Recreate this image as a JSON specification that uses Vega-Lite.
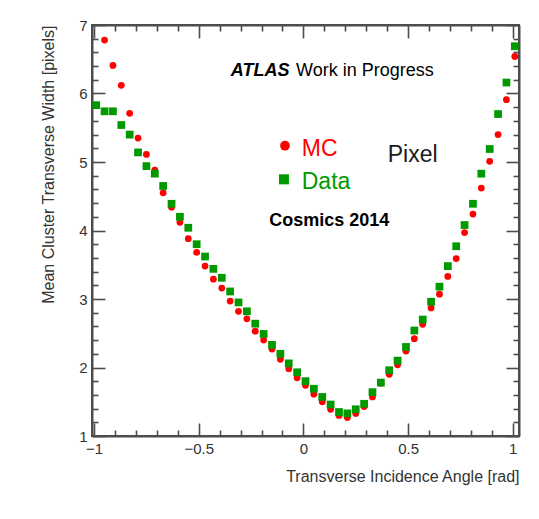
{
  "$schema": "https://vega.github.io/schema/vega-lite/v6.json",
  "width": 427,
  "height": 411,
  "autosize": {"type": "none"},
  "padding": {"left": 92, "top": 25, "right": 20, "bottom": 83},
  "background": "#ffffff",
  "config": {
    "font": "Liberation Sans",
    "view": {"stroke": "#4d4d4d", "strokeWidth": 2},
    "axis": {
      "domainColor": "#4d4d4d",
      "domainWidth": 2,
      "tickColor": "#4d4d4d",
      "tickWidth": 1.6,
      "grid": false,
      "labelFont": "Liberation Sans",
      "labelFontSize": 15,
      "labelColor": "#333333",
      "labelFlush": false,
      "labelOverlap": false,
      "labelPadding": 18,
      "titleFont": "Liberation Sans",
      "titleFontSize": 16,
      "titleFontWeight": "normal",
      "titleColor": "#333333"
    }
  },
  "datasets": {
    "mc": [
      {"angle": -0.95, "width": 6.78}, {"angle": -0.91, "width": 6.41}, {"angle": -0.87, "width": 6.12},
      {"angle": -0.83, "width": 5.71}, {"angle": -0.79, "width": 5.35}, {"angle": -0.75, "width": 5.11},
      {"angle": -0.71, "width": 4.88}, {"angle": -0.67, "width": 4.55}, {"angle": -0.63, "width": 4.34},
      {"angle": -0.59, "width": 4.12}, {"angle": -0.55, "width": 3.88}, {"angle": -0.51, "width": 3.68},
      {"angle": -0.47, "width": 3.48}, {"angle": -0.43, "width": 3.29}, {"angle": -0.39, "width": 3.16},
      {"angle": -0.35, "width": 2.97}, {"angle": -0.31, "width": 2.82}, {"angle": -0.27, "width": 2.71},
      {"angle": -0.23, "width": 2.53}, {"angle": -0.19, "width": 2.40}, {"angle": -0.15, "width": 2.27},
      {"angle": -0.11, "width": 2.12}, {"angle": -0.07, "width": 1.98}, {"angle": -0.03, "width": 1.85},
      {"angle": 0.01, "width": 1.74}, {"angle": 0.05, "width": 1.61}, {"angle": 0.09, "width": 1.50},
      {"angle": 0.13, "width": 1.39}, {"angle": 0.17, "width": 1.30}, {"angle": 0.21, "width": 1.27},
      {"angle": 0.25, "width": 1.33}, {"angle": 0.29, "width": 1.43}, {"angle": 0.33, "width": 1.57},
      {"angle": 0.37, "width": 1.77}, {"angle": 0.41, "width": 1.90}, {"angle": 0.45, "width": 2.04},
      {"angle": 0.49, "width": 2.24}, {"angle": 0.53, "width": 2.42}, {"angle": 0.57, "width": 2.63},
      {"angle": 0.61, "width": 2.87}, {"angle": 0.65, "width": 3.07}, {"angle": 0.69, "width": 3.33},
      {"angle": 0.73, "width": 3.59}, {"angle": 0.77, "width": 3.97}, {"angle": 0.81, "width": 4.24},
      {"angle": 0.85, "width": 4.62}, {"angle": 0.89, "width": 5.01}, {"angle": 0.93, "width": 5.40},
      {"angle": 0.97, "width": 5.91}, {"angle": 1.01, "width": 6.54}
    ],
    "data": [
      {"angle": -0.99, "width": 5.83}, {"angle": -0.95, "width": 5.74}, {"angle": -0.91, "width": 5.74},
      {"angle": -0.87, "width": 5.54}, {"angle": -0.83, "width": 5.40}, {"angle": -0.79, "width": 5.14},
      {"angle": -0.75, "width": 4.94}, {"angle": -0.71, "width": 4.83}, {"angle": -0.67, "width": 4.65},
      {"angle": -0.63, "width": 4.39}, {"angle": -0.59, "width": 4.20}, {"angle": -0.55, "width": 4.04},
      {"angle": -0.51, "width": 3.80}, {"angle": -0.47, "width": 3.62}, {"angle": -0.43, "width": 3.44},
      {"angle": -0.39, "width": 3.31}, {"angle": -0.35, "width": 3.11}, {"angle": -0.31, "width": 2.95},
      {"angle": -0.27, "width": 2.82}, {"angle": -0.23, "width": 2.64}, {"angle": -0.19, "width": 2.49},
      {"angle": -0.15, "width": 2.33}, {"angle": -0.11, "width": 2.20}, {"angle": -0.07, "width": 2.06},
      {"angle": -0.03, "width": 1.93}, {"angle": 0.01, "width": 1.80}, {"angle": 0.05, "width": 1.69},
      {"angle": 0.09, "width": 1.57}, {"angle": 0.13, "width": 1.46}, {"angle": 0.17, "width": 1.35},
      {"angle": 0.21, "width": 1.33}, {"angle": 0.25, "width": 1.39}, {"angle": 0.29, "width": 1.47},
      {"angle": 0.33, "width": 1.64}, {"angle": 0.37, "width": 1.78}, {"angle": 0.41, "width": 1.96},
      {"angle": 0.45, "width": 2.10}, {"angle": 0.49, "width": 2.30}, {"angle": 0.53, "width": 2.54},
      {"angle": 0.57, "width": 2.70}, {"angle": 0.61, "width": 2.96}, {"angle": 0.65, "width": 3.18},
      {"angle": 0.69, "width": 3.48}, {"angle": 0.73, "width": 3.77}, {"angle": 0.77, "width": 4.08},
      {"angle": 0.81, "width": 4.39}, {"angle": 0.85, "width": 4.83}, {"angle": 0.89, "width": 5.19},
      {"angle": 0.93, "width": 5.70}, {"angle": 0.97, "width": 6.16}, {"angle": 1.01, "width": 6.69}
    ],
    "one": [{}]
  },
  "resolve": {"axis": {"x": "independent", "y": "independent"}},
  "layer": [
    {
      "data": {"name": "mc"},
      "mark": {"type": "point", "shape": "circle", "filled": true, "color": "#ff0000", "size": 46, "opacity": 1},
      "encoding": {
        "x": {
          "field": "angle", "type": "quantitative",
          "scale": {"domain": [-1.01, 1.03], "nice": false, "zero": false},
          "axis": {
            "orient": "bottom",
            "title": "Transverse Incidence Angle [rad]",
            "titleAnchor": "end",
            "titlePadding": 5,
            "values": [-1, -0.9, -0.8, -0.7, -0.6, -0.5, -0.4, -0.3, -0.2, -0.1, 0, 0.1, 0.2, 0.3, 0.4, 0.5, 0.6, 0.7, 0.8, 0.9, 1],
            "tickSize": {"condition": {"test": "datum.value * 2 === round(datum.value * 2)", "value": -13}, "value": -6},
            "labelExpr": "datum.value * 2 === round(datum.value * 2) ? format(datum.value, '~g') : ''"
          }
        },
        "y": {
          "field": "width", "type": "quantitative",
          "scale": {"domain": [1, 7], "nice": false, "zero": false},
          "axis": {
            "orient": "left",
            "title": "Mean Cluster Transverse Width [pixels]",
            "titleAnchor": "end",
            "titlePadding": 22,
            "values": [1, 1.2, 1.4, 1.6, 1.8, 2, 2.2, 2.4, 2.6, 2.8, 3, 3.2, 3.4, 3.6, 3.8, 4, 4.2, 4.4, 4.6, 4.8, 5, 5.2, 5.4, 5.6, 5.8, 6, 6.2, 6.4, 6.6, 6.8, 7],
            "tickSize": {"condition": {"test": "datum.value === round(datum.value)", "value": -13}, "value": -6},
            "labelExpr": "datum.value === round(datum.value) ? format(datum.value, 'd') : ''"
          }
        }
      }
    },
    {
      "data": {"name": "data"},
      "mark": {"type": "point", "shape": "square", "filled": true, "color": "#009900", "size": 60, "opacity": 1},
      "encoding": {
        "x": {
          "field": "angle", "type": "quantitative",
          "axis": {
            "orient": "top", "title": null, "labels": false,
            "values": [-1, -0.9, -0.8, -0.7, -0.6, -0.5, -0.4, -0.3, -0.2, -0.1, 0, 0.1, 0.2, 0.3, 0.4, 0.5, 0.6, 0.7, 0.8, 0.9, 1],
            "tickSize": {"condition": {"test": "datum.value * 2 === round(datum.value * 2)", "value": -13}, "value": -6}
          }
        },
        "y": {
          "field": "width", "type": "quantitative",
          "axis": {
            "orient": "right", "title": null, "labels": false,
            "values": [1, 1.2, 1.4, 1.6, 1.8, 2, 2.2, 2.4, 2.6, 2.8, 3, 3.2, 3.4, 3.6, 3.8, 4, 4.2, 4.4, 4.6, 4.8, 5, 5.2, 5.4, 5.6, 5.8, 6, 6.2, 6.4, 6.6, 6.8, 7],
            "tickSize": {"condition": {"test": "datum.value === round(datum.value)", "value": -13}, "value": -6}
          }
        }
      }
    },
    {
      "data": {"name": "one"},
      "mark": {"type": "text", "text": "ATLAS", "fontSize": 18, "fontWeight": "bold", "fontStyle": "italic", "align": "left", "baseline": "alphabetic", "color": "#000000"},
      "encoding": {"x": {"datum": -0.347, "type": "quantitative", "axis": null}, "y": {"datum": 6.255, "type": "quantitative", "axis": null}}
    },
    {
      "data": {"name": "one"},
      "mark": {"type": "text", "text": "Work in Progress", "fontSize": 18, "align": "left", "baseline": "alphabetic", "color": "#000000"},
      "encoding": {"x": {"datum": -0.035, "type": "quantitative", "axis": null}, "y": {"datum": 6.255, "type": "quantitative", "axis": null}}
    },
    {
      "data": {"name": "one"},
      "mark": {"type": "text", "text": "Cosmics 2014", "fontSize": 18, "fontWeight": "bold", "align": "left", "baseline": "alphabetic", "color": "#000000"},
      "encoding": {"x": {"datum": -0.163, "type": "quantitative", "axis": null}, "y": {"datum": 4.066, "type": "quantitative", "axis": null}}
    },
    {
      "data": {"name": "one"},
      "mark": {"type": "text", "text": "Pixel", "fontSize": 23, "align": "left", "baseline": "alphabetic", "color": "#1a1a1a"},
      "encoding": {"x": {"datum": 0.403, "type": "quantitative", "axis": null}, "y": {"datum": 5.004, "type": "quantitative", "axis": null}}
    },
    {
      "data": {"name": "one"},
      "mark": {"type": "point", "shape": "circle", "filled": true, "color": "#ff0000", "size": 95, "opacity": 1},
      "encoding": {"x": {"datum": -0.088, "type": "quantitative", "axis": null}, "y": {"datum": 5.238, "type": "quantitative", "axis": null}}
    },
    {
      "data": {"name": "one"},
      "mark": {"type": "text", "text": "MC", "fontSize": 23, "align": "left", "baseline": "alphabetic", "color": "#ff0000"},
      "encoding": {"x": {"datum": -0.008, "type": "quantitative", "axis": null}, "y": {"datum": 5.088, "type": "quantitative", "axis": null}}
    },
    {
      "data": {"name": "one"},
      "mark": {"type": "point", "shape": "square", "filled": true, "color": "#009900", "size": 100, "opacity": 1},
      "encoding": {"x": {"datum": -0.093, "type": "quantitative", "axis": null}, "y": {"datum": 4.747, "type": "quantitative", "axis": null}}
    },
    {
      "data": {"name": "one"},
      "mark": {"type": "text", "text": "Data", "fontSize": 23, "align": "left", "baseline": "alphabetic", "color": "#009900"},
      "encoding": {"x": {"datum": -0.008, "type": "quantitative", "axis": null}, "y": {"datum": 4.601, "type": "quantitative", "axis": null}}
    }
  ]
}
